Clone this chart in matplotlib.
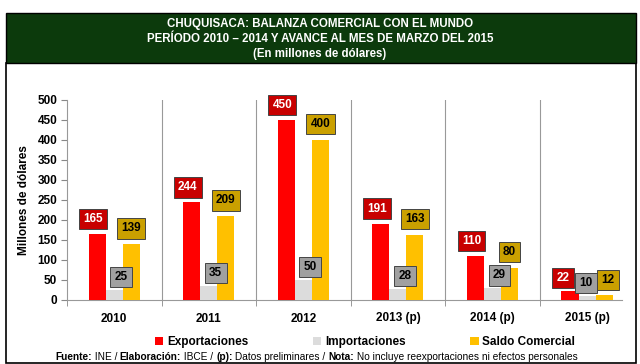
import matplotlib.pyplot as plt
from matplotlib.patches import Rectangle
import numpy as np

anios = ['2010', '2011', '2012', '2013 (p)', '2014 (p)', '2015 (p)']
exportaciones = [165, 244, 450, 191, 110, 22]
importaciones = [25, 35, 50, 28, 29, 10]
saldo = [139, 209, 400, 163, 80, 12]

plt.rcParams['font.family'] = ['Liberation Sans', 'DejaVu Sans']

fig = plt.figure(figsize=(6.4, 3.64), dpi=100)

# marco y encabezado (detras de los ejes)
fig.patches.append(Rectangle((6 / 640, 1 / 364), 630 / 640, 300 / 364, transform=fig.transFigure,
                             facecolor='white', edgecolor='black', linewidth=1.2, zorder=-5))
fig.patches.append(Rectangle((6 / 640, 1 - 63 / 364), 630 / 640, 50 / 364, transform=fig.transFigure,
                             facecolor='#0c3a0c', edgecolor='black', linewidth=1, zorder=-5))
titulo = ['CHUQUISACA: BALANZA COMERCIAL CON EL MUNDO',
          'PERÍODO 2010 – 2014 Y AVANCE AL MES DE MARZO DEL 2015',
          '(En millones de dólares)']
for i, t in enumerate(titulo):
    fig.text(0.5, 1 - (24 + 15 * i) / 364, t, color='white', fontsize=8.3, fontweight='bold',
             ha='center', va='center')

ax = fig.add_axes([67 / 640, 1 - 300 / 364, (622 - 67) / 640, 200 / 364])
ax.patch.set_alpha(0)
x = np.arange(len(anios))
w = 0.18

colores = ['#ff0000', '#dcdcdc', '#ffc000']
cajas = ['#c80000', '#a0a0a0', '#caa000']
texto = ['white', 'black', 'black']
# desplazamiento (px) de cada etiqueta respecto a la punta de su barra
desp = [(-4, 15), (7, 13), (0, 16)]
desp_ultimo = [(-7, 13), (-1, 13), (4, 15)]
series = [exportaciones, importaciones, saldo]
nombres = ['Exportaciones', 'Importaciones', 'Saldo Comercial']

for k, (vals, off) in enumerate(zip(series, [-w, 0, w])):
    bars = ax.bar(x + off, vals, w, color=colores[k], edgecolor='none', label=nombres[k], zorder=3)
    for i, (b, v) in enumerate(zip(bars, vals)):
        dx, dy = desp_ultimo[k] if i == len(vals) - 1 else desp[k]
        ax.annotate(str(v), (b.get_x() + b.get_width() / 2, v),
                    xytext=(dx * 0.72, dy * 0.72), textcoords='offset points',
                    ha='center', va='center', fontsize=8.5, fontweight='bold', color=texto[k],
                    bbox=dict(boxstyle='square,pad=0.36', facecolor=cajas[k], edgecolor='#444444', linewidth=0.7),
                    zorder=5, annotation_clip=False)

ax.set_ylim(0, 500)
ax.set_xlim(-0.5, 5.37)
ax.set_yticks(range(0, 501, 50))
ax.set_xticks(x)
ax.set_xticklabels(anios)
ax.set_xticks(np.arange(-0.5, 5.5, 1), minor=True)
ax.tick_params(axis='x', which='major', length=0, pad=9)
ax.tick_params(axis='x', which='minor', length=4, color='#888888')
ax.tick_params(axis='y', length=4, color='#888888', pad=3)
for lab in ax.get_xticklabels() + ax.get_yticklabels():
    lab.set_fontweight('bold')
    lab.set_fontsize(8.5)
for s in np.arange(0.5, 5.5, 1):
    ax.axvline(s, color='#999999', linewidth=0.8, zorder=1)
for s in ['top', 'right']:
    ax.spines[s].set_visible(False)
ax.spines['left'].set_color('#999999')
ax.spines['bottom'].set_color('#999999')
ax.set_ylabel('Millones de dólares', fontsize=8.5, fontweight='bold', labelpad=5)

ax.legend(loc='center', bbox_to_anchor=(365 / 640, 1 - 342 / 364), bbox_transform=fig.transFigure, ncol=3,
          frameon=False, prop={'weight': 'bold', 'size': 8.5},
          handlelength=0.7, handleheight=0.7, handletextpad=0.3, columnspacing=5.5)

# nota al pie con partes en negrita
partes = [('Fuente:', 'bold'), (' INE / ', 'normal'), ('Elaboración:', 'bold'), (' IBCE / ', 'normal'),
          ('(p):', 'bold'), (' Datos preliminares / ', 'normal'), ('Nota:', 'bold'),
          (' No incluye reexportaciones ni efectos personales', 'normal')]
fig.canvas.draw()
r = fig.canvas.get_renderer()
piezas = [fig.text(0, 1 - 357 / 364, t, fontsize=7.3, fontweight=p, va='center') for t, p in partes]
anchos = [pz.get_window_extent(r).width for pz in piezas]
xpos = 55
for pz, a in zip(piezas, anchos):
    pz.set_x(xpos / 640)
    xpos += a

fig.savefig('out.png', dpi=100)
